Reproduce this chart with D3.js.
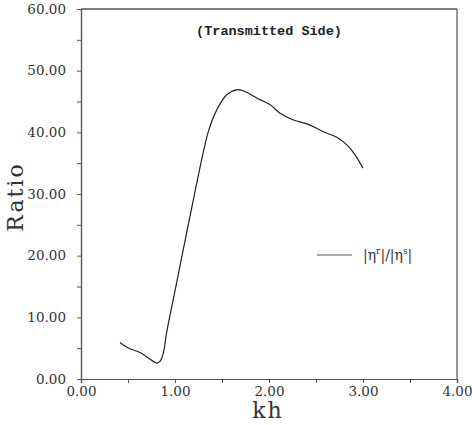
<!DOCTYPE html>
<html>
<head>
<meta charset="utf-8">
<script src="https://cdn.jsdelivr.net/npm/d3@7"></script>
<style>
  body { margin: 0; background: #fff; }
  svg { display: block; }
</style>
</head>
<body>
<div id="graph"></div>
<script>
// curve: kh vs ratio
var khValues = [0.415, 0.503, 0.628, 0.716, 0.805, 0.84, 0.876, 0.91, 1.0, 1.1, 1.2, 1.3, 1.36, 1.443, 1.55, 1.656, 1.73, 1.904, 2.01, 2.117, 2.26, 2.418, 2.578, 2.72, 2.826, 2.914, 3.0];
var ratioValues = [5.93, 5.02, 4.31, 3.4, 2.59, 2.85, 4.2, 7.45, 14.3, 21.9, 29.4, 36.7, 40.4, 43.6, 46.1, 46.9, 46.7, 45.3, 44.5, 43.1, 42.0, 41.3, 40.1, 39.2, 38.0, 36.4, 34.2];
var xTicks = [0, 1, 2, 3, 4];
var xMinor = [0.5, 1.5, 2.5, 3.5];
var yTicks = [0, 10, 20, 30, 40, 50, 60];
var yMinor = [5, 15, 25, 35, 45, 55];

var width = 472, height = 425;
var plotLeft = 81, plotRight = 457, plotTop = 9, plotBottom = 379;

var svg = d3.select('#graph').append('svg').attr('width', width).attr('height', height);

var x = d3.scaleLinear().domain([0, 4]).range([plotLeft, plotRight]);
var y = d3.scaleLinear().domain([0, 60]).range([plotBottom, plotTop]);

var serif = '"DejaVu Serif", "Liberation Serif", serif';
var axisColor = '#555';

// x axis
svg.append('g').attr('transform', 'translate(0,' + plotBottom + ')')
  .call(d3.axisBottom(x).tickValues(xTicks).tickFormat(d3.format('.2f')).tickSize(4).tickPadding(3));
svg.append('g').attr('transform', 'translate(0,' + plotBottom + ')')
  .call(d3.axisBottom(x).tickValues(xMinor).tickFormat('').tickSize(4));

// y axis
svg.append('g').attr('transform', 'translate(' + plotLeft + ',0)')
  .call(d3.axisLeft(y).tickValues(yTicks).tickFormat(d3.format('.2f')).tickSize(4).tickPadding(11));
svg.append('g').attr('transform', 'translate(' + plotLeft + ',0)')
  .call(d3.axisLeft(y).tickValues(yMinor).tickFormat('').tickSize(4));

svg.selectAll('.domain').attr('stroke', axisColor).attr('stroke-width', 1.2);
svg.selectAll('.tick line').attr('stroke', axisColor);
svg.selectAll('.tick text')
  .attr('font-family', serif).attr('font-size', 13.5).attr('fill', '#333');

// top and right frame
svg.append('line').attr('x1', plotLeft).attr('x2', plotRight).attr('y1', plotTop).attr('y2', plotTop)
  .attr('stroke', axisColor).attr('stroke-width', 1.4);
svg.append('line').attr('x1', plotRight).attr('x2', plotRight).attr('y1', plotTop).attr('y2', plotBottom)
  .attr('stroke', axisColor).attr('stroke-width', 1.2);

// curve
var pts = khValues.map(function (d, i) { return [d, ratioValues[i]]; });
var line = d3.line()
  .x(function (d) { return x(d[0]); })
  .y(function (d) { return y(d[1]); })
  .curve(d3.curveCatmullRom.alpha(0.5));
svg.append('path').datum(pts)
  .attr('d', line).attr('fill', 'none')
  .attr('stroke', '#222').attr('stroke-width', 1.2);

// title
svg.append('text').attr('x', 269).attr('y', 35)
  .attr('text-anchor', 'middle')
  .attr('font-family', '"Liberation Mono", "DejaVu Sans Mono", monospace')
  .attr('font-weight', 'bold').attr('font-size', 13.5).attr('fill', '#222')
  .text('(Transmitted Side)');

// legend
svg.append('line').attr('x1', 317).attr('x2', 352).attr('y1', 255).attr('y2', 255)
  .attr('stroke', '#555').attr('stroke-width', 1);
var leg = svg.append('text').attr('x', 363).attr('y', 260)
  .attr('font-family', serif).attr('font-size', 14).attr('fill', '#333');
leg.append('tspan').text('|\u03B7');
leg.append('tspan').attr('dy', -6).attr('font-size', 9).text('r');
leg.append('tspan').attr('dy', 6).text('|/|\u03B7');
leg.append('tspan').attr('dy', -6).attr('font-size', 9).text('s');
leg.append('tspan').attr('dy', 6).text('|');

// axis labels
svg.append('text')
  .attr('transform', 'translate(23,197) rotate(-90)')
  .attr('text-anchor', 'middle')
  .attr('font-family', serif).attr('font-size', 22).attr('letter-spacing', 2)
  .attr('fill', '#333').text('Ratio');
svg.append('text').attr('x', 268).attr('y', 418)
  .attr('text-anchor', 'middle')
  .attr('font-family', serif).attr('font-size', 22).attr('letter-spacing', 2)
  .attr('fill', '#333').text('kh');
</script>
</body>
</html>
